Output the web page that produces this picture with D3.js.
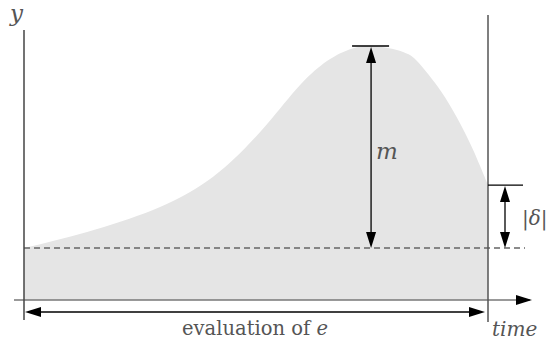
<!DOCTYPE html>
<html>
<head>
<meta charset="utf-8">
<script src="https://cdn.jsdelivr.net/npm/d3@7"></script>
<style>
  html, body { margin: 0; padding: 0; background: #fff; }
  svg { display: block; }
  .serif { font-family: "DejaVu Serif", serif; fill: #555; }
</style>
</head>
<body>
<svg id="chart" width="550" height="345"></svg>
<script>
// Trajectory of y over time
const times  = [0, 1.36, 2.78, 3.79, 4.5, 5.24, 5.95, 6.53, 6.96, 7.48, 8.17, 8.53, 8.9, 9.25, 9.61, 9.87, 10];
const values = [2.0, 2.62, 3.46, 4.38, 5.38, 6.77, 8.27, 9.19, 9.6, 9.77, 9.54, 9.08, 8.25, 7.27, 6.04, 4.98, 4.42];

// Reference level and evaluation window
const baseline = [2.0];
const window_ = [0, 10];
const labels = { y: "y", time: "time", m: "m", evalText: "evaluation of ", evalVar: "e" };

const svg = d3.select("#chart");
const x = d3.scaleLinear().domain([0, 10]).range([24, 488]);
const y = d3.scaleLinear().domain([0, 10]).range([300, 40]);

const pts = times.map((t, i) => ({ t, v: values[i] }));
const peak = pts.reduce((a, b) => (b.v > a.v ? b : a));
const last = pts[pts.length - 1];
const base = baseline[0];

// filled region under the curve
const area = d3.area()
  .x(d => x(d.t))
  .y0(y(0))
  .y1(d => y(d.v))
  .curve(d3.curveNatural);
svg.append("path").datum(pts).attr("d", area).attr("fill", "#e5e5e5");

// arrowhead helper: tip at (tx,ty), pointing in direction (dx,dy)
function head(tx, ty, dx, dy, len = 16, hw = 5, color = "#000") {
  const px = -dy, py = dx;
  const bx = tx - dx * len, by = ty - dy * len;
  svg.append("path")
    .attr("d", `M${tx},${ty}L${bx + px * hw},${by + py * hw}L${bx - px * hw},${by - py * hw}Z`)
    .attr("fill", color);
}
function line(x1, y1, x2, y2, color = "#000", w = 1.3, dash = null) {
  const l = svg.append("line")
    .attr("x1", x1).attr("y1", y1).attr("x2", x2).attr("y2", y2)
    .attr("stroke", color).attr("stroke-width", w);
  if (dash) l.attr("stroke-dasharray", dash);
  return l;
}

// dashed baseline
line(x(window_[0]), y(base), x(window_[1]) + 37, y(base), "#666", 1.3, "6,4");

// time axis
line(14, y(0), 530, y(0), "#777", 1.5);
head(532, y(0), 1, 0, 16, 5);

// vertical boundaries
line(x(window_[0]), 30, x(window_[0]), 320, "#444", 1.5);
line(x(window_[1]), 15, x(window_[1]), 322, "#555", 1.5);

// m: distance from baseline to peak
const mx = x(peak.t);
line(mx - 19, y(peak.v), mx + 18, y(peak.v), "#000", 1.3);
line(mx, y(peak.v) + 10, mx, y(base) - 10, "#000", 1.3);
head(mx, y(peak.v) + 1, 0, -1);
head(mx, y(base), 0, 1);
svg.append("text").attr("class", "serif")
  .attr("x", mx + 5).attr("y", (y(peak.v) + y(base)) / 2 + 12)
  .attr("font-style", "italic").attr("font-size", 23).text(labels.m);

// |δ|: distance from baseline to final value
const dx_ = x(window_[1]) + 17;
line(x(window_[1]), y(last.v), x(window_[1]) + 35, y(last.v), "#000", 1.3);
line(dx_, y(last.v) + 10, dx_, y(base) - 10, "#000", 1.3);
head(dx_, y(last.v) + 1, 0, -1);
head(dx_, y(base), 0, 1);
const dt = svg.append("text").attr("class", "serif")
  .attr("x", dx_ + 17).attr("y", (y(last.v) + y(base)) / 2 + 8)
  .attr("font-size", 20);
dt.append("tspan").text("|");
dt.append("tspan").attr("font-style", "italic").text("δ");
dt.append("tspan").text("|");

// evaluation window arrow
const ey = 312;
line(x(window_[0]) + 10, ey, x(window_[1]) - 10, ey, "#000", 1.3);
head(x(window_[0]) + 1, ey, -1, 0);
head(x(window_[1]) - 3, ey, 1, 0);
const et = svg.append("text").attr("class", "serif")
  .attr("x", (x(window_[0]) + x(window_[1])) / 2 - 1).attr("y", 335)
  .attr("text-anchor", "middle").attr("font-size", 19.5);
et.append("tspan").text(labels.evalText);
et.append("tspan").attr("font-style", "italic").text(labels.evalVar);

// axis labels
svg.append("text").attr("class", "serif")
  .attr("x", 10).attr("y", 21).attr("font-style", "italic").attr("font-size", 23).text(labels.y);
svg.append("text").attr("class", "serif")
  .attr("x", 492).attr("y", 336).attr("font-style", "italic").attr("font-size", 20).text(labels.time);
</script>
</body>
</html>
